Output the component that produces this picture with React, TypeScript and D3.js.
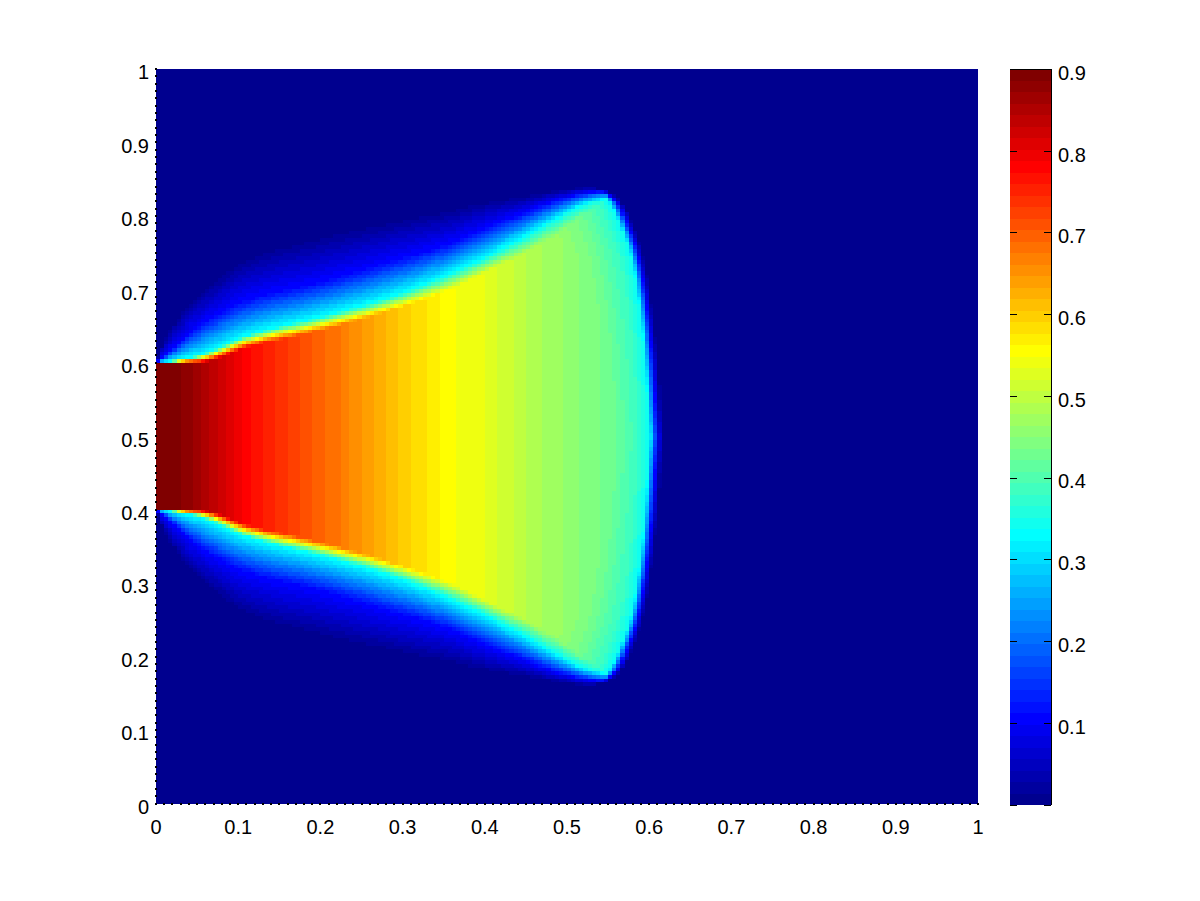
import React from 'react';
import * as d3 from 'd3';

// Values. Field is symmetric about y = 0.5; d = |y - 0.5|.
const knotsX = [0, 0.01, 0.033, 0.05, 0.114, 0.196, 0.276, 0.358, 0.4, 0.45, 0.49, 0.53, 0.62];
const coreEdge = [0.1, 0.1, 0.1, 0.1, 0.122, 0.143, 0.168, 0.2, 0.223, 0.25, 0.276, 0.303, 0.33];
const cyanEdge = [0.1003, 0.101, 0.105, 0.109, 0.138, 0.161, 0.186, 0.221, 0.243, 0.272, 0.298, 0.319, 0.335];
const blueEdge = [0.1006, 0.108, 0.132, 0.148, 0.186, 0.208, 0.234, 0.262, 0.283, 0.305, 0.322, 0.332, 0.338];
const outerEdge = [0.101, 0.13, 0.172, 0.192, 0.245, 0.272, 0.292, 0.31, 0.32, 0.328, 0.335, 0.34, 0.342];

const coreX = [0, 0.03, 0.05, 0.103, 0.15, 0.223, 0.3, 0.345, 0.38, 0.4, 0.446, 0.515, 0.55, 0.62];
const coreValue = [0.9, 0.885, 0.865, 0.7875, 0.74, 0.675, 0.6, 0.5625, 0.54, 0.535, 0.495, 0.45, 0.43, 0.39];

const frontD = [0, 0.114, 0.206, 0.25, 0.297, 0.319, 0.332, 0.338, 0.342, 0.346];
const frontX = [0.617, 0.61, 0.6, 0.592, 0.577, 0.567, 0.553, 0.535, 0.51, 0.45];
const rampS = [0, 0.007, 0.016, 0.03, 0.06, 0.1, 0.2];
const rampV = [0.005, 0.1125, 0.3375, 0.38, 0.43, 0.47, 0.95];

const axisTicks = [0, 0.1, 0.2, 0.3, 0.4, 0.5, 0.6, 0.7, 0.8, 0.9, 1];
const axisLabels = ['0', '0.1', '0.2', '0.3', '0.4', '0.5', '0.6', '0.7', '0.8', '0.9', '1'];
const barTicks = [0.1, 0.2, 0.3, 0.4, 0.5, 0.6, 0.7, 0.8, 0.9];
const colorLimits = [0, 0.9];
const gridSize = 200;
const levels = 64;

const W = 1200, H = 901;
const x = d3.scaleLinear().domain([0, 1]).range([156, 978]);
const y = d3.scaleLinear().domain([0, 1]).range([803.5, 69]);
const barY = d3.scaleLinear().domain(colorLimits).range([805, 69.5]);

function jet(i: number) {
  const f = (i + 1) / levels;
  const c = (a: number) => Math.round(255 * Math.max(0, Math.min(1, a)));
  return d3.rgb(
    c(Math.min(4 * f - 1.5, -4 * f + 4.5)),
    c(Math.min(4 * f - 0.5, -4 * f + 3.5)),
    c(Math.min(4 * f + 0.5, -4 * f + 2.5))
  ).formatHex();
}

const lin = (dom: number[], rng: number[]) => d3.scaleLinear().domain(dom).range(rng).clamp(true);

// Monotone Hermite through the read-off contour knots, so contours have no kinks.
function smooth(xs: number[], ys: number[]) {
  const n = xs.length;
  const sl = d3.range(n - 1).map((i) => (ys[i + 1] - ys[i]) / (xs[i + 1] - xs[i]));
  const m = xs.map((_, i) => {
    if (i === 0) return sl[0];
    if (i === n - 1) return sl[n - 2];
    if (sl[i - 1] * sl[i] <= 0) return 0;
    return (2 * sl[i - 1] * sl[i]) / (sl[i - 1] + sl[i]);
  });
  return (t: number) => {
    if (t <= xs[0]) return ys[0];
    if (t >= xs[n - 1]) return ys[n - 1];
    const i = Math.min(n - 2, d3.bisectRight(xs, t) - 1);
    const h = xs[i + 1] - xs[i];
    const u = (t - xs[i]) / h;
    const u2 = u * u, u3 = u2 * u;
    return (
      (2 * u3 - 3 * u2 + 1) * ys[i] +
      (u3 - 2 * u2 + u) * h * m[i] +
      (-2 * u3 + 3 * u2) * ys[i + 1] +
      (u3 - u2) * h * m[i + 1]
    );
  };
}

const coreS = smooth(knotsX, coreEdge);
const cyanS = smooth(knotsX, cyanEdge);
const blueS = smooth(knotsX, blueEdge);
const outerS = smooth(knotsX, outerEdge);
const valueS = lin(coreX, coreValue);
const frontS = smooth(frontD, frontX);
const rampSc = lin(rampS, rampV);

function field(px: number, py: number) {
  const d = Math.abs(py - 0.5);
  const v = valueS(px);
  const profile = lin(
    [coreS(px), cyanS(px), blueS(px), outerS(px)],
    [v, 0.3375, 0.1125, 0.005]
  )(d);
  return Math.min(profile, rampSc(frontS(d) - px));
}

const level = (v: number) =>
  Math.max(0, Math.min(levels - 1, Math.floor(((v - colorLimits[0]) / (colorLimits[1] - colorLimits[0])) * levels)));

type Run = { c: number; r0: number; r1: number; level: number };

function buildRuns(): Run[] {
  const runs: Run[] = [];
  for (let c = 0; c < gridSize; c++) {
    let start = 0;
    let cur = -1;
    for (let r = 0; r <= gridSize; r++) {
      const l = r < gridSize ? level(field((c + 0.5) / gridSize, (r + 0.5) / gridSize)) : -2;
      if (l !== cur) {
        if (cur > 0) runs.push({ c, r0: start, r1: r, level: cur });
        start = r;
        cur = l;
      }
    }
  }
  return runs;
}

const runs = buildRuns();
const dotTicks = d3.range(0, 101).map((i) => i / 100);
const font = '"Liberation Sans", Arial, sans-serif';

export default function App() {
  return (
    <svg width={W} height={H} viewBox={`0 0 ${W} ${H}`} style={{ position: 'absolute', left: 0, top: 0, background: '#fff' }}>
      <g shapeRendering="crispEdges">
        <rect x={x(0)} y={y(1)} width={x(1) - x(0)} height={y(0) - y(1)} fill={jet(0)} />
        {runs.map((run, i) => (
          <rect
            key={i}
            x={x(run.c / gridSize)}
            width={x((run.c + 1) / gridSize) - x(run.c / gridSize)}
            y={y(run.r1 / gridSize)}
            height={y(run.r0 / gridSize) - y(run.r1 / gridSize)}
            fill={jet(run.level)}
          />
        ))}
        {dotTicks.map((t) => (
          <rect key={'l' + t} x={x(0) - 1} y={y(t) - 1} width={2} height={2} fill="#000" />
        ))}
        {dotTicks.map((t) => (
          <rect key={'b' + t} x={x(t) - 1} y={y(0) - 1} width={2} height={2} fill="#000" />
        ))}
      </g>
      <g fontFamily={font} fontSize={20} fill="#000">
        {axisTicks.map((t, i) => (
          <text key={'yl' + t} x={149} y={y(t) + 5} textAnchor="end" dominantBaseline="middle">
            {axisLabels[i]}
          </text>
        ))}
        {axisTicks.map((t, i) => (
          <text key={'xl' + t} x={x(t)} y={829} textAnchor="middle" dominantBaseline="middle">
            {axisLabels[i]}
          </text>
        ))}
      </g>
      <g shapeRendering="crispEdges">
        {d3.range(levels).map((i) => (
          <rect
            key={i}
            x={1010}
            width={42}
            y={barY(((i + 1) / levels) * colorLimits[1])}
            height={barY((i / levels) * colorLimits[1]) - barY(((i + 1) / levels) * colorLimits[1])}
            fill={jet(i)}
          />
        ))}
        <line x1={1010} x2={1052} y1={69.5} y2={69.5} stroke="#000" />
        <line x1={1051.5} x2={1051.5} y1={69} y2={805} stroke="#000" />
        {[0, ...barTicks].map((t) => (
          <g key={t}>
            <line x1={1010} x2={1017} y1={barY(t)} y2={barY(t)} stroke="#000" />
            <line x1={1044} x2={1051} y1={barY(t)} y2={barY(t)} stroke="#000" />
          </g>
        ))}
      </g>
      <g fontFamily={font} fontSize={20} fill="#000">
        {barTicks.map((t) => (
          <text key={t} x={1058} y={barY(t) + 5} dominantBaseline="middle">
            {t.toFixed(1)}
          </text>
        ))}
      </g>
    </svg>
  );
}
